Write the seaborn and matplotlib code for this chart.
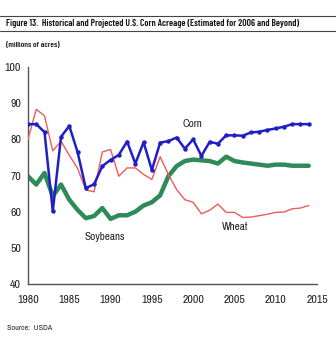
import matplotlib
matplotlib.use("Agg")
import matplotlib.pyplot as plt
import seaborn as sns
import pandas as pd
from matplotlib.lines import Line2D

years = list(range(1980, 2015))
corn = [84.2, 84.2, 82.0, 60.1, 80.7, 83.7, 76.5, 66.5, 67.6, 72.6,
        74.3, 75.7, 79.4, 73.3, 79.2, 71.5, 79.1, 79.5, 80.5, 77.4,
        80.0, 75.4, 79.3, 78.8, 81.1, 81.1, 81.0, 81.9, 82.1, 82.6,
        83.0, 83.5, 84.2, 84.2, 84.2]
wheat = [80.0, 88.3, 86.5, 76.8, 79.5, 75.6, 72.0, 66.0, 65.5, 76.5,
         77.2, 69.8, 72.1, 72.1, 70.3, 68.9, 75.2, 70.3, 66.1, 63.3,
         62.6, 59.4, 60.4, 62.1, 59.8, 59.8, 58.4, 58.5, 58.9, 59.3,
         59.8, 59.9, 60.8, 61.0, 61.7]
soybeans = [69.8, 67.5, 70.7, 64.3, 67.5, 63.3, 60.5, 58.2, 58.8, 61.0,
            58.0, 59.0, 59.0, 60.0, 61.7, 62.6, 64.5, 69.8, 72.6, 74.0,
            74.4, 74.2, 74.0, 73.3, 75.2, 74.0, 73.6, 73.3, 73.0, 72.7,
            73.0, 73.0, 72.7, 72.7, 72.7]

title = "Figure 13.  Historical and Projected U.S. Corn Acreage (Estimated for 2006 and Beyond)"
unit_label = "(millions of acres)"
source = "Source:  USDA"
xticks = [1980, 1985, 1990, 1995, 2000, 2005, 2010, 2015]
yticks = [40, 50, 60, 70, 80, 90, 100]

df = pd.DataFrame({"year": years, "Corn": corn, "Wheat": wheat, "Soybeans": soybeans})

sns.set_style("white")
narrow = ["Archivo Narrow", "Roboto Condensed", "DejaVu Sans"]
bold_narrow = ["Barlow Condensed", "Archivo Narrow", "DejaVu Sans"]
plt.rcParams["font.family"] = narrow

fig = plt.figure(figsize=(3.36, 3.40), dpi=100)
ax = fig.add_axes([28/336, 1 - 284/340, (317 - 28)/336, (284 - 67)/340])

sns.lineplot(data=df, x="year", y="Soybeans", ax=ax, color="#2E8B57", linewidth=3.2, zorder=2)
sns.lineplot(data=df, x="year", y="Wheat", ax=ax, color="#F05A5A", linewidth=1.0, zorder=3)
sns.lineplot(data=df, x="year", y="Corn", ax=ax, color="#1F1FC8", linewidth=1.8,
             marker="o", markersize=3.2, markeredgewidth=0, zorder=4)

ax.set_xlim(1980, 2015)
ax.set_ylim(40, 100)
ax.set_xticks(xticks)
ax.set_yticks(yticks)
ax.set_xlabel("")
ax.set_ylabel("")
for s in ["top", "right"]:
    ax.spines[s].set_visible(False)
for s in ["left", "bottom"]:
    ax.spines[s].set_color("#555555")
    ax.spines[s].set_linewidth(1.0)
ax.tick_params(axis="both", direction="in", length=3, width=0.8, color="#555555",
               labelsize=8.5, labelcolor="#222222", pad=5)
ax.tick_params(axis="x", pad=8)
ax.grid(False)

ax.text(1999.9, 84.2, "Corn", fontsize=8, ha="center", va="center", color="#222222")
ax.text(1989.3, 53.1, "Soybeans", fontsize=8, ha="center", va="center", color="#222222")
ax.text(2005.1, 55.8, "Wheat", fontsize=8, ha="center", va="center", color="#222222")

fig.add_artist(Line2D([0, 1], [1 - 16/340, 1 - 16/340], color="#444444", linewidth=0.8))
fig.add_artist(Line2D([0, 1], [1 - 31/340, 1 - 31/340], color="#444444", linewidth=0.8))
t1 = fig.text(6/336, 1 - 24/340, title, fontsize=8, fontweight="semibold", family=bold_narrow,
              ha="left", va="center", color="#111111")
t2 = fig.text(6/336, 1 - 44/340, unit_label, fontsize=7, fontweight="semibold", family=bold_narrow,
              ha="left", va="center", color="#222222")
fig.text(7/336, 1 - 328/340, source, fontsize=5.8, ha="left", va="center", color="#222222")

# fit header texts to the widths seen in the reference
renderer = fig.canvas.get_renderer()
for t, target in [(t1, 292), (t2, 54)]:
    w = t.get_window_extent(renderer).width
    t.set_fontsize(t.get_fontsize() * target / w)

fig.savefig("out.png", dpi=100)
